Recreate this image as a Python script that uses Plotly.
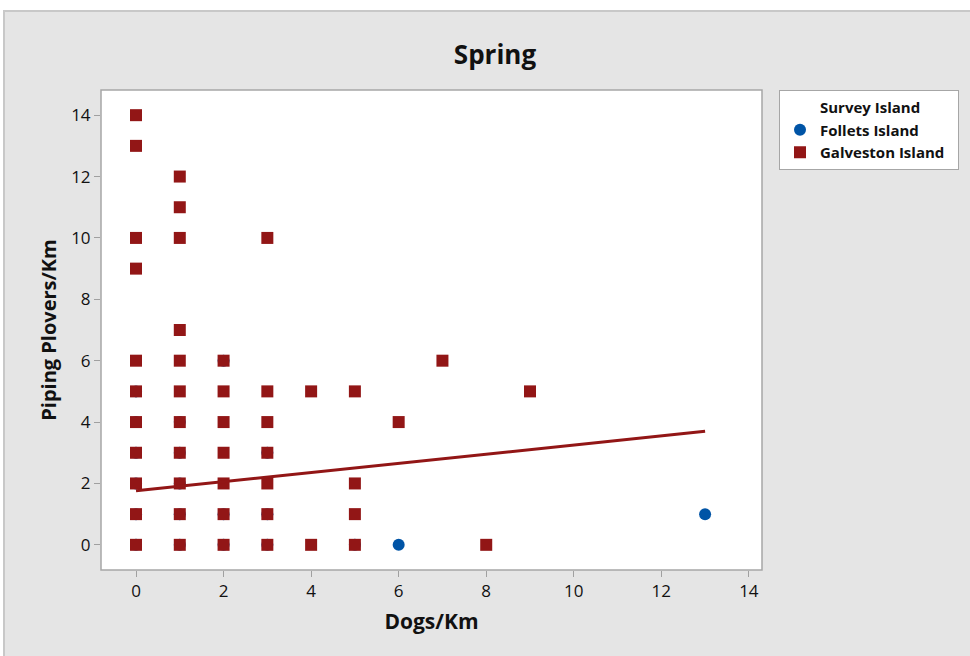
import plotly.graph_objects as go

# Galveston Island survey counts (dogs per km vs piping plovers per km)
galveston_dogs = [0, 0, 0, 0, 0, 0, 0, 0, 0, 0, 0,
                  1, 1, 1, 1, 1, 1, 1, 1, 1, 1, 1,
                  2, 2, 2, 2, 2, 2, 2,
                  3, 3, 3, 3, 3, 3, 3,
                  4, 4,
                  5, 5, 5, 5,
                  6, 7, 8, 9]
galveston_plovers = [0, 1, 2, 3, 4, 5, 6, 9, 10, 13, 14,
                     0, 1, 2, 3, 4, 5, 6, 7, 10, 11, 12,
                     0, 1, 2, 3, 4, 5, 6,
                     0, 1, 2, 3, 4, 5, 10,
                     0, 5,
                     0, 1, 2, 5,
                     4, 6, 0, 5]

# Follets Island survey counts
follets_dogs = [0, 0, 0, 0, 0, 0, 1, 1, 1, 1, 1, 2, 2, 2, 3, 3, 3, 5, 6, 13]
follets_plovers = [0, 1, 2, 3, 4, 5, 0, 1, 2, 3, 4, 0, 1, 6, 0, 1, 3, 0, 0, 1]

# Fitted regression line end points
fit_dogs = [0, 13]
fit_plovers = [1.76, 3.70]

x_ticks = [0, 2, 4, 6, 8, 10, 12, 14]
y_ticks = [0, 2, 4, 6, 8, 10, 12, 14]

BLUE = "#0054a6"
RED = "#921616"
INK = "#111111"
FONT = "Open Sans"

W, H = 970, 656
ML, MR, MT, MB = 101, 208, 90, 86
PW, PH = W - ML - MR, H - MT - MB


def px(x):
    return (x - ML) / PW


def py(y):
    return 1 - (y - MT) / PH


fig = go.Figure()

# legend heading drawn as an empty entry so it lines up with the item labels
fig.add_trace(go.Scatter(
    x=[None], y=[None], mode="markers", name="<b>Survey Island</b>",
    marker=dict(size=12, color="rgba(0,0,0,0)"),
))
fig.add_trace(go.Scatter(
    x=follets_dogs, y=follets_plovers, mode="markers", name="<b>Follets Island</b>",
    marker=dict(symbol="circle", size=12, color=BLUE),
))
fig.add_trace(go.Scatter(
    x=galveston_dogs, y=galveston_plovers, mode="markers",
    name="<b>Galveston Island</b>&nbsp;&nbsp;",
    marker=dict(symbol="square", size=12, color=RED),
))
fig.add_trace(go.Scatter(
    x=fit_dogs, y=fit_plovers, mode="lines", showlegend=False,
    line=dict(color=RED, width=3),
))

# grey outer panel behind everything
fig.add_shape(type="rect", xref="paper", yref="paper",
              x0=px(4), x1=px(990), y0=py(11), y1=py(680),
              fillcolor="#e5e5e5", line=dict(color="#c8c8c8", width=2),
              layer="below")
# plot area
fig.add_shape(type="rect", xref="paper", yref="paper",
              x0=0, x1=1, y0=0, y1=1,
              fillcolor="white", line=dict(color="#a6a6a6", width=1.5),
              layer="below")

axis_common = dict(
    showgrid=False, zeroline=False, showline=False,
    ticks="outside", ticklen=6, tickcolor="#a0a0a0", tickwidth=1,
    tickfont=dict(family=FONT, size=17, color=INK),
)

fig.update_xaxes(range=[-0.8, 14.3], tickvals=x_ticks,
                 title=dict(text="<b>Dogs/Km</b>", standoff=12,
                            font=dict(family=FONT, size=21, color=INK)),
                 **axis_common)
fig.update_yaxes(range=[-0.82, 14.82], tickvals=y_ticks,
                 title=dict(text="<b>Piping Plovers/Km</b>", standoff=9,
                            font=dict(family=FONT, size=20, color=INK)),
                 **axis_common)

fig.update_layout(
    width=W, height=H,
    margin=dict(l=ML, r=MR, t=MT, b=MB, autoexpand=False),
    paper_bgcolor="white",
    plot_bgcolor="rgba(0,0,0,0)",
    title=dict(text="<b>Spring</b>", x=495 / W, xanchor="center",
               y=1 - 55 / H, yanchor="middle",
               font=dict(family=FONT, size=26, color=INK)),
    legend=dict(
        font=dict(family=FONT, size=15, color=INK),
        x=px(779), y=1, xanchor="left", yanchor="top",
        bgcolor="white", bordercolor="#a6a6a6", borderwidth=1,
        itemsizing="constant", tracegroupgap=0,
    ),
    showlegend=True,
)

fig.write_html("out.html")
